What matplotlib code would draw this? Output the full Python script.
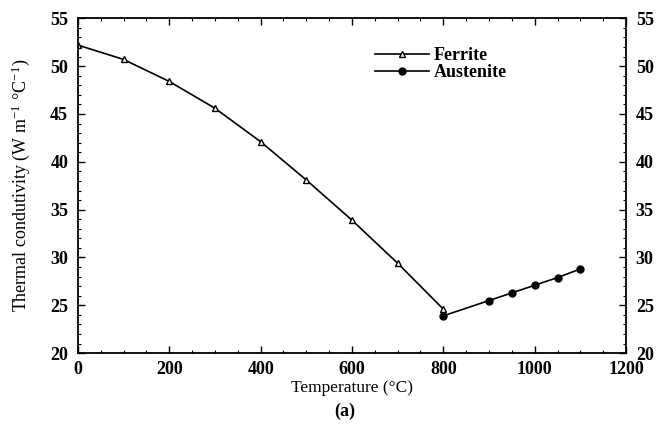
import matplotlib
matplotlib.use("Agg")
import matplotlib.pyplot as plt
from matplotlib.ticker import MultipleLocator

# thermal conductivity vs temperature
ferrite_t = [0, 100, 200, 300, 400, 500, 600, 700, 800]
ferrite_k = [52.2, 50.7, 48.4, 45.6, 42.1, 38.1, 33.9, 29.4, 24.6]
austenite_t = [800, 900, 950, 1000, 1050, 1100]
austenite_k = [23.9, 25.5, 26.3, 27.1, 27.9, 28.8]

plt.rcParams['font.family'] = ['Liberation Serif', 'DejaVu Serif']
plt.rcParams['mathtext.fontset'] = 'stix'

fig = plt.figure(figsize=(6.66, 4.36), dpi=100)
ax = fig.add_axes([0.117, 0.19, 0.823, 0.768])

ax.plot(ferrite_t, ferrite_k, color='black', lw=1.2, marker='^', ms=5,
        mfc='white', mec='black', mew=1.0, label='Ferrite')
ax.plot(austenite_t, austenite_k, color='black', lw=1.2, marker='o', ms=5,
        mfc='black', mec='black', label='Austenite')

ax.set_xlim(0, 1200)
ax.set_ylim(20, 55)
ax.xaxis.set_major_locator(MultipleLocator(200))
ax.xaxis.set_minor_locator(MultipleLocator(50))
ax.yaxis.set_major_locator(MultipleLocator(5))
ax.yaxis.set_minor_locator(MultipleLocator(1))
ax.tick_params(which='both', direction='in', top=True, right=True,
               labelright=True, labelsize=13)
ax.tick_params(axis='x', pad=6)
ax.tick_params(axis='y', pad=7)
ax.tick_params(which='major', length=5, width=1)
ax.tick_params(which='minor', length=2.5, width=0.8)
for lab in ax.get_xticklabels() + ax.get_yticklabels():
    lab.set_fontweight('bold')
for t in ax.yaxis.get_major_ticks():
    t.label2.set_fontweight('bold')
for sp in ax.spines.values():
    sp.set_linewidth(1.3)

ax.set_xlabel('Temperature (°C)', fontsize=12.5)
ax.xaxis.set_label_coords(0.5, -0.081)
ax.set_ylabel('Thermal condutivity (W m$^{\\mathregular{-1}}$ °C$^{\\mathregular{-1}}$)',
              fontsize=13)
ax.yaxis.set_label_coords(-0.084, 0.5)
fig.text(0.518, 0.046, '(a)', ha='center', fontsize=13, fontweight='bold')

leg = ax.legend(loc='center left', bbox_to_anchor=(0.525, 0.864), frameon=False,
                fontsize=13, handlelength=3.0, handletextpad=0.25,
                labelspacing=0.0, borderpad=0)
for txt in leg.get_texts():
    txt.set_fontweight('bold')

fig.savefig('out.png', dpi=100)
